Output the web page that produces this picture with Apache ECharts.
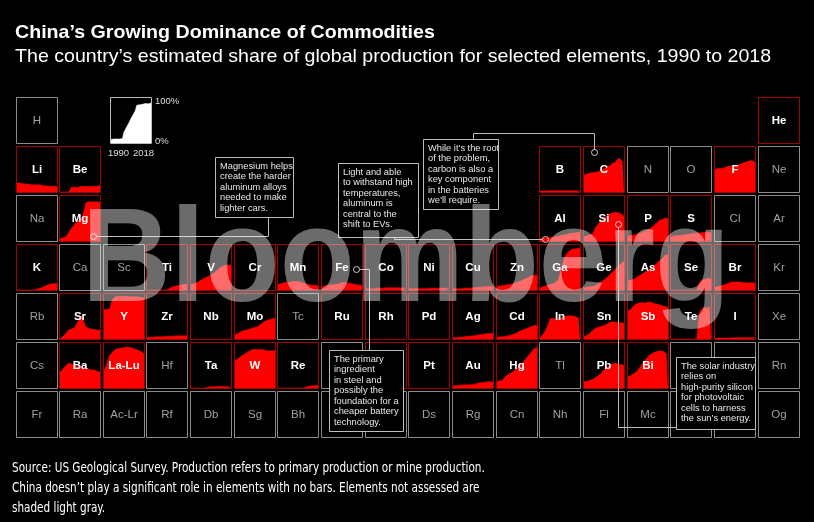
<!DOCTYPE html>
<html>
<head>
<meta charset="utf-8">
<script src="https://cdn.jsdelivr.net/npm/echarts@6/dist/echarts.min.js"></script>
<style>
  html, body { margin: 0; padding: 0; background: #000; }
  #chart { width: 814px; height: 522px; }
</style>
</head>
<body>
<div id="chart"></div>
<script>
// years on each mini x axis
const years = [1990, 1991, 1992, 1993, 1994, 1995, 1996, 1997, 1998, 1999, 2000, 2001, 2002, 2003, 2004,
  2005, 2006, 2007, 2008, 2009, 2010, 2011, 2012, 2013, 2014, 2015, 2016, 2017, 2018];

// periodic table rows (18 columns, null = empty slot)
const row1 = ["H", null, null, null, null, null, null, null, null, null, null, null, null, null, null, null, null, "He"];
const row2 = ["Li", "Be", null, null, null, null, null, null, null, null, null, null, "B", "C", "N", "O", "F", "Ne"];
const row3 = ["Na", "Mg", null, null, null, null, null, null, null, null, null, null, "Al", "Si", "P", "S", "Cl", "Ar"];
const row4 = ["K", "Ca", "Sc", "Ti", "V", "Cr", "Mn", "Fe", "Co", "Ni", "Cu", "Zn", "Ga", "Ge", "As", "Se", "Br", "Kr"];
const row5 = ["Rb", "Sr", "Y", "Zr", "Nb", "Mo", "Tc", "Ru", "Rh", "Pd", "Ag", "Cd", "In", "Sn", "Sb", "Te", "I", "Xe"];
const row6 = ["Cs", "Ba", "La-Lu", "Hf", "Ta", "W", "Re", "Os", "Ir", "Pt", "Au", "Hg", "Tl", "Pb", "Bi", "Po", "At", "Rn"];
const row7 = ["Fr", "Ra", "Ac-Lr", "Rf", "Db", "Sg", "Bh", "Hs", "Mt", "Ds", "Rg", "Cn", "Nh", "Fl", "Mc", "Lv", "Ts", "Og"];

// elements not assessed (light gray)
const notAssessed = ["H", "N", "O", "Ne", "Na", "Cl", "Ar", "Ca", "Sc", "Kr", "Rb", "Tc", "Xe", "Cs", "Hf", "Os",
  "Tl", "Po", "At", "Rn", ...row7];

// China's share of global production, %, 1990..2018
const sample = [8, 8, 9, 8, 9, 10, 9, 10, 10, 24, 30, 36, 40, 48, 55, 60, 66, 72, 84, 87, 85, 88, 86, 87, 88, 89, 87, 88, 89];
const shareLi = [20, 21, 20, 19, 19, 18, 17, 17, 18, 17, 16, 17, 16, 15, 16, 15, 16, 15, 14, 15, 14, 14, 13, 14, 13, 13, 13, 12, 12];
const shareBe = [0, 0, 0, 0, 0, 0, 0, 0, 10, 12, 11, 12, 10, 11, 12, 11, 12, 11, 12, 13, 12, 13, 12, 13, 13, 14, 13, 14, 14];
const shareB = [2, 2, 2, 2, 2, 2, 3, 3, 3, 3, 3, 3, 3, 3, 3, 3, 3, 3, 3, 3, 3, 3, 3, 3, 3, 3, 3, 3, 2];
const shareC = [38, 36, 40, 39, 42, 41, 43, 45, 44, 46, 45, 48, 50, 53, 52, 55, 57, 56, 58, 60, 64, 62, 66, 71, 69, 75, 72, 67, 66];
const shareF = [50, 51, 52, 51, 53, 54, 53, 55, 56, 55, 57, 56, 58, 57, 58, 59, 60, 61, 62, 63, 65, 66, 67, 68, 69, 71, 70, 69, 65];
const shareMg = [5, 6, 7, 8, 9, 12, 18, 24, 28, 32, 36, 40, 42, 46, 48, 50, 58, 70, 85, 86, 87, 88, 87, 88, 87, 86, 87, 86, 86];
const shareAl = [5, 5, 6, 6, 7, 7, 8, 8, 8, 9, 9, 10, 10, 11, 12, 12, 13, 14, 14, 15, 16, 17, 17, 18, 18, 19, 19, 20, 20];
const shareSi = [10, 11, 12, 12, 13, 14, 16, 22, 30, 34, 38, 42, 45, 48, 50, 53, 56, 58, 60, 62, 63, 64, 64, 65, 63, 62, 60, 57, 55];
const shareP = [10, 11, 12, 13, 13, 14, 15, 16, 17, 18, 19, 21, 22, 24, 25, 27, 29, 31, 34, 37, 40, 43, 46, 47, 48, 50, 51, 52, 50];
const shareS = [10, 10, 11, 11, 12, 12, 12, 13, 13, 13, 14, 14, 15, 15, 16, 16, 17, 17, 18, 18, 18, 19, 19, 19, 20, 20, 19, 19, 19];
const shareK = [0, 0, 0, 0, 0, 0, 0, 0, 0, 0, 0, 0, 0, 0, 2, 3, 4, 5, 6, 7, 9, 11, 12, 13, 14, 15, 14, 15, 14];
const shareTi = [0, 0, 0, 0, 0, 0, 0, 0, 0, 0, 0, 0, 0, 0, 0, 0, 4, 6, 7, 8, 9, 9, 10, 11, 11, 12, 12, 13, 13];
const shareV = [12, 13, 14, 15, 16, 18, 20, 22, 24, 25, 27, 29, 30, 32, 34, 36, 38, 40, 43, 46, 49, 51, 53, 54, 55, 54, 55, 56, 55];
const shareMn = [12, 13, 14, 15, 16, 16, 17, 18, 17, 18, 19, 20, 19, 18, 19, 18, 17, 16, 15, 14, 13, 12, 12, 11, 10, 10, 11, 10, 9];
const shareFe = [8, 8, 9, 9, 10, 10, 11, 11, 12, 12, 13, 13, 14, 15, 16, 17, 17, 16, 15, 16, 15, 14, 13, 12, 12, 11, 11, 10, 10];
const shareCo = [3, 3, 3, 3, 3, 3, 3, 3, 4, 4, 4, 4, 4, 5, 5, 5, 5, 5, 5, 5, 5, 5, 5, 5, 5, 5, 4, 4, 4];
const shareNi = [3, 3, 3, 3, 3, 3, 3, 3, 3, 3, 3, 3, 3, 3, 4, 4, 4, 4, 4, 4, 4, 4, 4, 4, 4, 4, 4, 4, 4];
const shareCu = [3, 3, 3, 3, 3, 3, 3, 4, 4, 4, 4, 4, 4, 5, 5, 5, 5, 6, 6, 6, 6, 7, 7, 7, 8, 8, 8, 8, 8];
const shareZn = [8, 9, 9, 10, 10, 11, 11, 12, 12, 13, 13, 14, 15, 16, 17, 18, 19, 20, 22, 24, 25, 27, 28, 30, 31, 32, 33, 33, 33];
const shareGa = [5, 6, 7, 8, 9, 10, 11, 12, 13, 14, 15, 17, 20, 25, 35, 50, 60, 70, 78, 82, 85, 88, 90, 92, 91, 93, 92, 94, 93];
const shareGe = [5, 5, 6, 6, 7, 7, 8, 9, 10, 12, 14, 16, 18, 20, 22, 25, 28, 31, 34, 37, 40, 43, 46, 50, 53, 56, 59, 62, 64];
const shareAs = [20, 21, 22, 23, 24, 26, 28, 30, 32, 34, 36, 38, 40, 42, 44, 46, 48, 50, 53, 56, 59, 62, 65, 68, 70, 74, 78, 80, 78];
const shareSe = [0, 0, 0, 0, 0, 0, 0, 0, 0, 0, 0, 0, 0, 0, 0, 0, 0, 0, 0, 0, 18, 20, 22, 24, 24, 25, 26, 25, 25];
const shareBr = [6, 7, 8, 8, 9, 10, 11, 12, 13, 14, 16, 17, 18, 19, 18, 19, 18, 17, 18, 17, 16, 17, 16, 17, 16, 15, 16, 15, 15];
const shareSr = [0, 2, 5, 9, 12, 16, 20, 21, 22, 24, 25, 30, 36, 41, 46, 52, 45, 35, 28, 26, 24, 23, 22, 22, 21, 21, 20, 20, 20];
const shareY = [65, 64, 66, 65, 67, 80, 88, 92, 94, 94, 95, 94, 95, 94, 95, 94, 95, 94, 94, 95, 94, 93, 94, 93, 94, 93, 92, 93, 92];
const shareZr = [4, 4, 4, 4, 4, 4, 5, 5, 5, 5, 5, 5, 5, 5, 6, 6, 6, 6, 6, 6, 7, 7, 7, 7, 7, 7, 7, 7, 7];
const shareMo = [9, 10, 12, 14, 16, 18, 19, 20, 20, 21, 22, 23, 24, 25, 26, 27, 28, 30, 33, 36, 38, 40, 41, 42, 43, 44, 45, 45, 46];
const shareAg = [3, 3, 3, 4, 4, 4, 4, 5, 5, 5, 6, 6, 6, 7, 7, 8, 8, 9, 9, 10, 10, 11, 11, 11, 12, 12, 12, 12, 12];
const shareCd = [4, 4, 5, 5, 5, 6, 6, 7, 7, 8, 9, 10, 11, 12, 14, 15, 17, 18, 20, 21, 22, 24, 25, 27, 28, 30, 30, 31, 30];
const shareIn = [3, 5, 10, 15, 20, 27, 35, 45, 49, 46, 44, 45, 46, 45, 47, 48, 49, 50, 49, 51, 52, 52, 53, 51, 52, 50, 48, 46, 45];
const shareSn = [5, 6, 8, 10, 13, 16, 19, 22, 24, 25, 26, 27, 28, 29, 30, 31, 33, 35, 37, 38, 38, 39, 38, 37, 36, 37, 36, 35, 35];
const shareSb = [62, 64, 66, 70, 74, 76, 78, 79, 80, 80, 81, 81, 80, 81, 82, 81, 82, 80, 79, 78, 78, 77, 76, 75, 74, 73, 72, 71, 70];
const shareTe = [0, 0, 0, 0, 0, 0, 0, 0, 0, 0, 0, 0, 0, 0, 0, 0, 0, 0, 0, 0, 60, 65, 68, 70, 70, 69, 70, 71, 70];
const shareI = [2, 2, 2, 2, 2, 2, 2, 2, 2, 2, 2, 3, 3, 3, 3, 3, 3, 3, 3, 3, 3, 3, 3, 3, 3, 3, 3, 3, 3];
const shareBa = [35, 38, 42, 46, 50, 54, 55, 56, 54, 52, 50, 49, 48, 47, 48, 46, 45, 46, 44, 43, 42, 41, 40, 39, 40, 38, 37, 36, 35];
const shareLaLu = [38, 45, 55, 65, 72, 76, 80, 84, 86, 87, 88, 88, 89, 89, 90, 90, 91, 91, 90, 90, 89, 88, 86, 85, 84, 83, 81, 79, 76];
const shareTa = [0, 0, 0, 0, 0, 0, 0, 0, 0, 0, 0, 0, 2, 2, 3, 3, 3, 3, 3, 3, 4, 3, 3, 4, 3, 3, 3, 3, 3];
const shareW = [60, 62, 65, 68, 70, 72, 74, 76, 78, 80, 82, 84, 85, 83, 86, 84, 85, 83, 86, 82, 85, 84, 83, 85, 82, 84, 83, 82, 83];
const shareRe = [0, 0, 0, 0, 0, 0, 0, 0, 0, 0, 0, 0, 0, 0, 0, 0, 0, 0, 0, 2, 3, 3, 4, 4, 5, 5, 5, 5, 6];
const shareAu = [5, 5, 5, 5, 6, 6, 6, 6, 7, 7, 7, 7, 7, 8, 8, 8, 9, 10, 11, 11, 12, 13, 13, 13, 14, 14, 14, 13, 13];
const shareHg = [14, 15, 16, 17, 18, 22, 26, 28, 30, 32, 34, 36, 38, 40, 43, 46, 50, 53, 56, 60, 64, 68, 72, 76, 80, 84, 87, 90, 90];
const sharePb = [14, 15, 15, 16, 17, 18, 19, 21, 23, 25, 27, 30, 33, 37, 40, 43, 46, 48, 50, 52, 54, 54, 55, 54, 53, 54, 52, 51, 50];
const shareBi = [25, 26, 28, 30, 32, 34, 36, 40, 45, 50, 54, 58, 62, 66, 70, 73, 75, 77, 79, 80, 81, 82, 81, 82, 80, 81, 78, 75, 72];

const shares = {
  Li: shareLi, Be: shareBe, B: shareB, C: shareC, F: shareF, Mg: shareMg, Al: shareAl, Si: shareSi, P: shareP, S: shareS,
  K: shareK, Ti: shareTi, V: shareV, Mn: shareMn, Fe: shareFe, Co: shareCo, Ni: shareNi, Cu: shareCu, Zn: shareZn,
  Ga: shareGa, Ge: shareGe, As: shareAs, Se: shareSe, Br: shareBr, Sr: shareSr, Y: shareY, Zr: shareZr, Mo: shareMo,
  Ag: shareAg, Cd: shareCd, In: shareIn, Sn: shareSn, Sb: shareSb, Te: shareTe, I: shareI, Ba: shareBa, "La-Lu": shareLaLu,
  Ta: shareTa, W: shareW, Re: shareRe, Au: shareAu, Hg: shareHg, Pb: sharePb, Bi: shareBi
};

const notes = [
  { text: "Magnesium helps\ncreate the harder\naluminum alloys\nneeded to make\nlighter cars.", box: [215, 157, 78, 60] },
  { text: "Light and able\nto withstand high\ntemperatures,\naluminum is\ncentral to the\nshift to EVs.", box: [338, 163, 80, 74] },
  { text: "While it\u2019s the root\nof the problem,\ncarbon is also a\nkey component\nin the batteries\nwe\u2019ll require.", box: [423, 139, 75, 70] },
  { text: "The primary\ningredient\nin steel and\npossibly the\nfoundation for a\ncheaper battery\ntechnology.", box: [329, 350, 74, 81] },
  { text: "The solar industry\nrelies on\nhigh-purity silicon\nfor photovoltaic\ncells to harness\nthe sun\u2019s energy.", box: [676, 357, 79, 72] }
];

// ---- layout ----
const FONT = "'Liberation Sans', Arial, Helvetica, sans-serif";
const CELL_X0 = 15.5, CELL_DX = 43.65, CELL_Y0 = 97, CELL_DY = 49, CELL_W = 41, CELL_H = 46;
const RED = "#ff0000", RED_BORDER = "#a30000", GRAY_BORDER = "#8c8c8c";

const chart = echarts.init(document.getElementById("chart"), null, { renderer: "canvas" });

const grids = [], xAxes = [], yAxes = [], series = [], graphics = [];

function addArea(x, y, w, h, data, color) {
  const i = grids.length;
  grids.push({ left: x, top: y, width: w, height: h, show: false });
  xAxes.push({ type: "category", gridIndex: i, data: years, boundaryGap: false, show: false });
  yAxes.push({ type: "value", gridIndex: i, min: 0, max: 100, show: false });
  series.push({
    type: "line", xAxisIndex: i, yAxisIndex: i, data: data, symbol: "none", silent: true,
    lineStyle: { width: 0.5, color: color }, areaStyle: { color: color, opacity: 1 }, z: 2
  });
}

[row1, row2, row3, row4, row5, row6, row7].forEach((row, r) => {
  row.forEach((el, c) => {
    if (!el) return;
    const x = Math.round(CELL_X0 + c * CELL_DX) + 0.5;
    const y = CELL_Y0 + r * CELL_DY + 0.5;
    const gray = notAssessed.includes(el);
    graphics.push({
      type: "rect", z: 1, shape: { x: x, y: y, width: CELL_W, height: CELL_H },
      style: { fill: "#000", stroke: gray ? GRAY_BORDER : RED_BORDER, lineWidth: 1 }
    });
    if (shares[el]) addArea(x + 0.5, y + 0.5, CELL_W - 1, CELL_H - 1, shares[el], RED);
    graphics.push({
      type: "text", z: 5, x: x + CELL_W / 2, y: y + CELL_H / 2,
      style: {
        text: el, fill: gray ? "#a0a0a0" : "#fff", font: (gray ? "" : "bold ") + "11.5px " + FONT,
        textAlign: "center", textVerticalAlign: "middle"
      }
    });
  });
});

// legend sample
graphics.push({ type: "rect", z: 1, shape: { x: 110.5, y: 97.5, width: 41, height: 46 }, style: { fill: "#000", stroke: "#bbb", lineWidth: 1 } });
addArea(111, 98, 40, 45, sample, "#fff");
[["100%", 155, 101], ["0%", 155, 141], ["1990", 108, 153], ["2018", 133, 153]].forEach(t => {
  graphics.push({ type: "text", z: 5, x: t[1], y: t[2], style: { text: t[0], fill: "#ddd", font: "9.5px " + FONT, textAlign: "left", textVerticalAlign: "middle" } });
});

// annotation boxes
notes.forEach(n => {
  const [bx, by, bw, bh] = n.box;
  graphics.push({ type: "rect", z: 10, shape: { x: bx + 0.5, y: by + 0.5, width: bw, height: bh }, style: { fill: "#000", stroke: "#bdbdbd", lineWidth: 1 } });
  graphics.push({
    type: "text", z: 11, x: bx + 5, y: by + 4,
    style: { text: n.text, fill: "#e6e6e6", font: "9.3px " + FONT, lineHeight: 10.5, textAlign: "left", textVerticalAlign: "top" }
  });
});

// leader lines + circles
const leaders = [
  [[96, 236], [268, 236], [268, 217]],
  [[394, 237], [394, 239], [542, 239]],
  [[473, 139], [473, 133], [594, 133], [594, 149]],
  [[359, 269], [369, 269], [369, 350]],
  [[618, 227], [618, 427], [676, 427]]
];
const dots = [[93, 236], [545, 239], [594, 152], [356, 269], [618, 224]];
leaders.forEach(pts => {
  graphics.push({ type: "polyline", z: 9, shape: { points: pts.map(p => [p[0] + 0.5, p[1] + 0.5]) }, style: { stroke: "#bdbdbd", lineWidth: 1, fill: null } });
});
dots.forEach(d => {
  graphics.push({ type: "circle", z: 9, shape: { cx: d[0] + 0.5, cy: d[1] + 0.5, r: 3 }, style: { stroke: "#d0d0d0", lineWidth: 1, fill: "rgba(0,0,0,0)" } });
});

// titles and footer
graphics.push({ type: "text", z: 5, x: 15, y: 33, scaleX: 1.06, style: { text: "China\u2019s Growing Dominance of Commodities", fill: "#fff", font: "bold 18.5px " + FONT, textVerticalAlign: "middle" } });
graphics.push({ type: "text", z: 5, x: 15, y: 57, scaleX: 1.06, style: { text: "The country\u2019s estimated share of global production for selected elements, 1990 to 2018", fill: "#fff", font: "18.5px " + FONT, textVerticalAlign: "middle" } });
graphics.push({
  type: "text", z: 5, x: 12, y: 458, scaleX: 0.83,
  style: {
    text: "Source: US Geological Survey. Production refers to primary production or mine production.\nChina doesn\u2019t play a significant role in elements with no bars. Elements not assessed are\nshaded light gray.",
    fill: "#fff", font: "14px 'Liberation Sans Narrow', 'DejaVu Sans Condensed', sans-serif", lineHeight: 20, textVerticalAlign: "top"
  }
});

// watermark
graphics.push({
  type: "text", z: 20, x: 82, y: 264, scaleX: 0.923,
  style: { text: "Bloomberg", fill: "rgba(255,255,255,0.42)", font: "bold 133px " + FONT, textAlign: "left", textVerticalAlign: "middle" }
});

chart.setOption({
  backgroundColor: "#000",
  animation: false,
  grid: grids,
  xAxis: xAxes,
  yAxis: yAxes,
  series: series,
  graphic: { elements: graphics }
});
</script>
</body>
</html>
